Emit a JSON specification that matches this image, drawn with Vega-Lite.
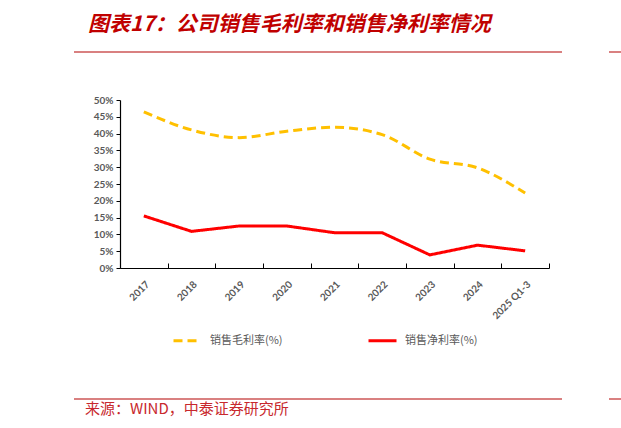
{
  "$schema": "https://vega.github.io/schema/vega-lite/v6.json",
  "description": "图表17：公司销售毛利率和销售净利率情况",
  "background": "white",
  "padding": {"left": 73, "top": 14, "right": 0, "bottom": 0},
  "spacing": 20,
  "config": {
    "view": {"stroke": null},
    "axis": {
      "grid": false,
      "domainColor": "#000000",
      "tickColor": "#000000",
      "labelColor": "#595959",
      "labelFont": "Lato",
      "labelFontSize": 10,
      "labelFontWeight": "bold",
      "title": null
    },
    "legend": {
      "orient": "none",
      "legendX": 98,
      "legendY": 273,
      "direction": "horizontal",
      "columnPadding": 79,
      "symbolSize": 784,
      "symbolStrokeWidth": 3,
      "symbolType": "stroke",
      "labelFont": "Noto Sans CJK SC",
      "labelFontSize": 11,
      "labelColor": "#595959",
      "labelOffset": 7,
      "title": null
    }
  },
  "vconcat": [
    {
      "spacing": 45,
      "hconcat": [
        {
          "width": 488,
          "height": 23,
          "title": {
            "text": "图表17：公司销售毛利率和销售净利率情况",
            "anchor": "start",
            "dx": 15,
            "offset": 16,
            "font": "Noto Sans CJK SC",
            "fontSize": 21,
            "fontWeight": "bold",
            "fontStyle": "italic",
            "color": "#C00000"
          },
          "data": {"values": [{}]},
          "mark": {"type": "rule", "color": "#D98080", "strokeWidth": 2},
          "encoding": {"y": {"datum": 1, "type": "quantitative", "scale": {"domain": [0, 1]}, "axis": null}}
        },
        {
          "width": 13,
          "height": 23,
          "data": {"values": [{}]},
          "mark": {"type": "rule", "color": "#D98080", "strokeWidth": 2},
          "encoding": {"y": {"datum": 1, "type": "quantitative", "scale": {"domain": [0, 1]}, "axis": null}}
        }
      ]
    },
    {
      "width": 488,
      "height": 168,
      "data": {
        "values": [
          {"year": "2017", "series": "销售毛利率(%)", "value": 0.465},
          {"year": "2018", "series": "销售毛利率(%)", "value": 0.411},
          {"year": "2019", "series": "销售毛利率(%)", "value": 0.388},
          {"year": "2020", "series": "销售毛利率(%)", "value": 0.407},
          {"year": "2021", "series": "销售毛利率(%)", "value": 0.419},
          {"year": "2022", "series": "销售毛利率(%)", "value": 0.397},
          {"year": "2023", "series": "销售毛利率(%)", "value": 0.324},
          {"year": "2024", "series": "销售毛利率(%)", "value": 0.298},
          {"year": "2025 Q1-3", "series": "销售毛利率(%)", "value": 0.223},
          {"year": "2017", "series": "销售净利率(%)", "value": 0.155},
          {"year": "2018", "series": "销售净利率(%)", "value": 0.109},
          {"year": "2019", "series": "销售净利率(%)", "value": 0.125},
          {"year": "2020", "series": "销售净利率(%)", "value": 0.125},
          {"year": "2021", "series": "销售净利率(%)", "value": 0.105},
          {"year": "2022", "series": "销售净利率(%)", "value": 0.105},
          {"year": "2023", "series": "销售净利率(%)", "value": 0.039},
          {"year": "2024", "series": "销售净利率(%)", "value": 0.068},
          {"year": "2025 Q1-3", "series": "销售净利率(%)", "value": 0.051}
        ]
      },
      "encoding": {
        "x": {
          "field": "year",
          "type": "nominal",
          "sort": null,
          "bandPosition": 0.5,
          "scale": {"type": "band", "range": [46, 475], "paddingInner": 0, "paddingOuter": 0},
          "axis": {
            "labelAngle": -45,
            "labelPadding": 16,
            "tickBand": "extent",
            "tickSize": -5,
            "domainWidth": 1.2
          }
        },
        "y": {
          "field": "value",
          "type": "quantitative",
          "scale": {"domain": [0, 0.5], "nice": false},
          "axis": {
            "offset": -46,
            "values": [0, 0.05, 0.1, 0.15, 0.2, 0.25, 0.3, 0.35, 0.4, 0.45, 0.5],
            "format": ".0%",
            "tickSize": 4,
            "labelPadding": 3,
            "domainWidth": 1.2
          }
        },
        "color": {
          "field": "series",
          "type": "nominal",
          "scale": {"domain": ["销售毛利率(%)", "销售净利率(%)"], "range": ["#FFC000", "#FF0000"]}
        },
        "strokeDash": {
          "field": "series",
          "type": "nominal",
          "scale": {"domain": ["销售毛利率(%)", "销售净利率(%)"], "range": [[9, 5], [1, 0]]}
        }
      },
      "layer": [
        {
          "transform": [{"filter": "datum.series === '销售毛利率(%)'"}],
          "mark": {"type": "line", "strokeWidth": 3, "interpolate": "monotone"}
        },
        {
          "transform": [{"filter": "datum.series === '销售净利率(%)'"}],
          "mark": {"type": "line", "strokeWidth": 3}
        }
      ]
    },
    {
      "spacing": 45,
      "hconcat": [
        {
          "width": 488,
          "height": 58,
          "title": {
            "text": "来源：WIND，中泰证券研究所",
            "orient": "bottom",
            "anchor": "start",
            "dx": 12,
            "offset": 2,
            "font": "Noto Sans CJK SC",
            "fontSize": 15,
            "fontWeight": "normal",
            "color": "#C8282D"
          },
          "data": {"values": [{}]},
          "mark": {"type": "rule", "color": "#D98080", "strokeWidth": 2},
          "encoding": {"y": {"datum": 0, "type": "quantitative", "scale": {"domain": [0, 1]}, "axis": null}}
        },
        {
          "width": 13,
          "height": 58,
          "data": {"values": [{}]},
          "mark": {"type": "rule", "color": "#D98080", "strokeWidth": 2},
          "encoding": {"y": {"datum": 0, "type": "quantitative", "scale": {"domain": [0, 1]}, "axis": null}}
        }
      ]
    }
  ]
}
